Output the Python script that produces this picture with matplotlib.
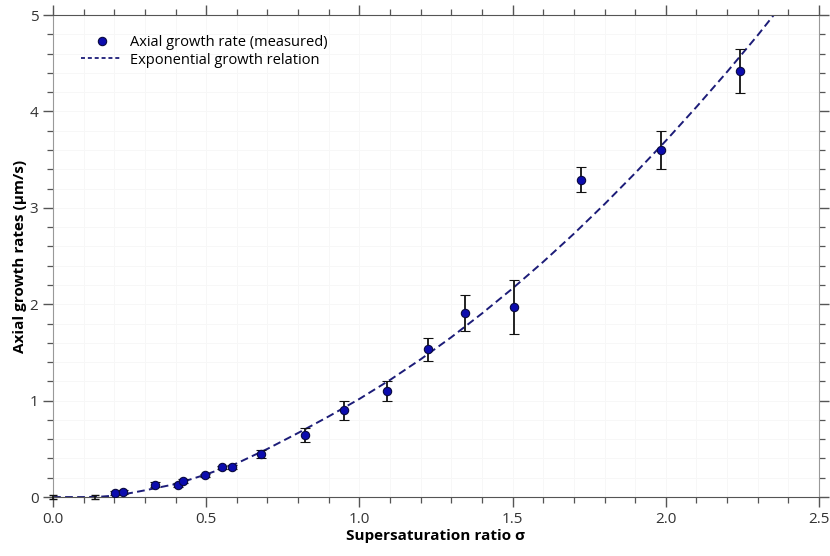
import numpy as np
import matplotlib
matplotlib.use('Agg')
import matplotlib.pyplot as plt
from matplotlib.ticker import MultipleLocator
from matplotlib.lines import Line2D

plt.rcParams['font.family'] = ['Open Sans', 'DejaVu Sans']

# measured axial growth rates
sigma = [0.202, 0.229, 0.332, 0.409, 0.425, 0.495, 0.553, 0.584, 0.680,
         0.821, 0.949, 1.089, 1.223, 1.346, 1.504, 1.723, 1.986, 2.243]
rate = [0.045, 0.049, 0.13, 0.125, 0.17, 0.228, 0.308, 0.308, 0.443,
        0.643, 0.90, 1.10, 1.535, 1.91, 1.975, 3.29, 3.60, 4.42]
rate_err = [0.02, 0.02, 0.025, 0.02, 0.02, 0.015, 0.015, 0.02, 0.04,
            0.07, 0.10, 0.10, 0.12, 0.185, 0.28, 0.13, 0.20, 0.23]

# points sitting on the baseline
sigma_zero = [0.0, 0.137]
rate_zero = [0.0, 0.0]

# exponential growth relation
fit_sigma = [0.0, 0.10, 0.15, 0.20, 0.25, 0.30, 0.40, 0.50, 0.60, 0.70, 0.80,
             0.90, 1.00, 1.10, 1.20, 1.30, 1.40, 1.50, 1.60, 1.70, 1.80,
             1.90, 2.00, 2.10, 2.20, 2.30, 2.36]
fit_rate = [0.0, 0.0, 0.003, 0.015, 0.04, 0.07, 0.135, 0.235, 0.35, 0.50, 0.665,
            0.837, 1.018, 1.215, 1.429, 1.658, 1.904, 2.164, 2.44, 2.731, 3.038,
            3.36, 3.695, 4.046, 4.41, 4.79, 5.03]

fig = plt.figure(figsize=(8.3, 5.56), dpi=100)
ax = fig.add_axes([0.0639, 0.106, 0.9228, 0.867])

ax.plot(fit_sigma, fit_rate, ls=(0, (4, 2.2)), color='#1c1c78', lw=1.4, zorder=2)
ax.errorbar(sigma_zero, rate_zero, yerr=0.02, fmt='none', ecolor='#111111',
            elinewidth=1.2, capsize=3, zorder=3, clip_on=False)
ax.errorbar(sigma, rate, yerr=rate_err, fmt='o', ms=6, mfc='#0c0cae',
            mec='#0a0a40', mew=0.8, ecolor='#111111', elinewidth=1.3,
            capsize=3.5, capthick=1.3, zorder=4)

ax.set_xlim(0, 2.5)
ax.set_ylim(0, 5)
ax.xaxis.set_major_locator(MultipleLocator(0.5))
ax.xaxis.set_minor_locator(MultipleLocator(0.1))
ax.yaxis.set_major_locator(MultipleLocator(1))
ax.yaxis.set_minor_locator(MultipleLocator(0.2))
ax.set_xticks(np.arange(0, 2.51, 0.5))
ax.set_xticklabels(['%.1f' % v for v in np.arange(0, 2.51, 0.5)])

ax.grid(which='both', color='#f7f7f7', lw=0.7, zorder=0)
ax.set_axisbelow(True)

ax.tick_params(which='both', direction='out', top=True, right=True,
               colors='#555555', labelcolor='#333333', labelsize=11)
ax.tick_params(which='major', length=7, width=1)
ax.tick_params(which='minor', length=4, width=0.9)
ax.tick_params(axis='x', which='both', labeltop=False)
ax.tick_params(axis='y', which='both', labelright=False)
for side in ['left', 'right']:
    ax.spines[side].set_color('#999999')
for side in ['top', 'bottom']:
    ax.spines[side].set_color('#555555')

ax.set_xlabel('Supersaturation ratio σ', fontsize=11, fontweight='bold',
              labelpad=2)
ax.set_ylabel('Axial growth rates (µm/s)', fontsize=11, fontweight='bold',
              labelpad=2)

# legend handles: plain dot and fine dashed line
h_meas = Line2D([], [], ls='none', marker='o', ms=6, mfc='#0c0cae',
                mec='#0a0a40', mew=0.8)
h_fit = Line2D([], [], ls=(0, (2.2, 1.6)), color='#1c1c78', lw=1.3)
ax.legend([h_meas, h_fit],
          ['Axial growth rate (measured)', 'Exponential growth relation'],
          loc='upper left', frameon=False, fontsize=10.5, handlelength=2.8,
          handletextpad=0.55, labelspacing=0.15,
          bbox_to_anchor=(0.02, 0.985))

fig.savefig('out.png', dpi=100)
